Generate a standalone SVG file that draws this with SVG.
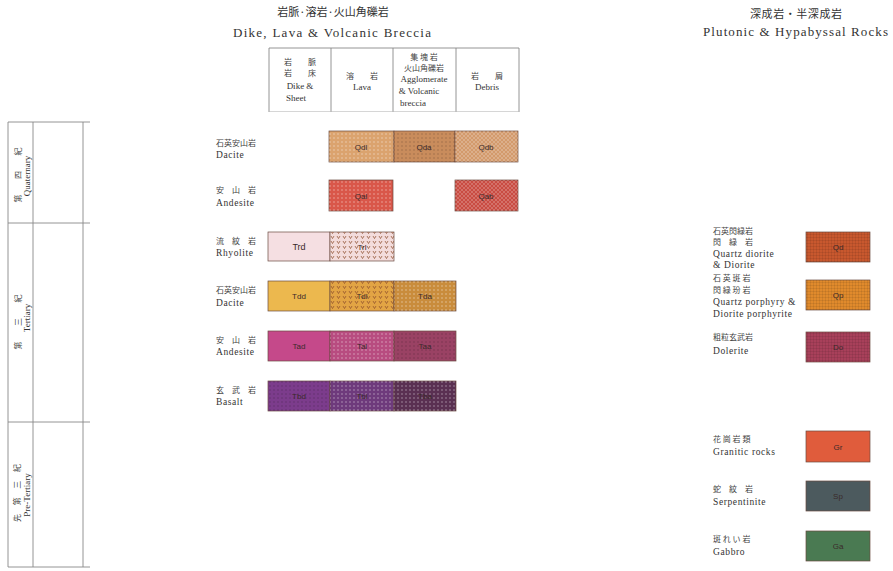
<svg xmlns="http://www.w3.org/2000/svg" width="893" height="571" viewBox="0 0 893 571">
<defs>
<pattern id="dots" width="4" height="4" patternUnits="userSpaceOnUse"><circle cx="2" cy="2" r="0.8" fill="#fff" fill-opacity="0.45"/></pattern>
<pattern id="dotsd" width="4" height="4" patternUnits="userSpaceOnUse"><circle cx="2" cy="2" r="0.8" fill="#000" fill-opacity="0.2"/></pattern>
<pattern id="vee" width="6" height="5" patternUnits="userSpaceOnUse"><path d="M1 1 L2.5 3.5 L4 1" fill="none" stroke="#8a4a2a" stroke-width="0.7"/></pattern>
<pattern id="grid" width="3" height="3" patternUnits="userSpaceOnUse"><path d="M0 0H3M0 0V3" stroke="#000" stroke-opacity="0.25" stroke-width="0.6"/></pattern>
<pattern id="cross" width="4" height="4" patternUnits="userSpaceOnUse"><path d="M0 0L4 4M4 0L0 4" stroke="#fff" stroke-opacity="0.35" stroke-width="0.6"/></pattern>
</defs>
<style>
text{font-family:"Liberation Serif","Noto Sans CJK JP",serif;fill:#333}
.jp{font-family:"Noto Sans CJK JP","Liberation Serif",sans-serif;font-size:8px;fill:#444}
.en{font-size:9.5px;letter-spacing:0.6px}
.ttl{font-size:13px}
.jpt{font-family:"Noto Sans CJK JP",sans-serif;font-size:11px}
.hd{font-size:9px;text-anchor:middle}
.hj{font-family:"Noto Sans CJK JP",sans-serif;font-size:8px;text-anchor:middle;fill:#444}
.code{font-family:"Liberation Sans",sans-serif;font-size:8px;text-anchor:middle;fill:#3a2a2a}
.ln{stroke:#888;stroke-width:0.9;fill:none}
.bx{stroke:#6a4a40;stroke-width:0.7}
.rot{font-size:9px;text-anchor:middle}
.rotj{font-family:"Noto Sans CJK JP",sans-serif;font-size:8px;fill:#444;text-anchor:middle}
</style>

<g id="headers">
<text class="jpt" x="333" y="16" text-anchor="middle">岩脈·溶岩·火山角礫岩</text>
<text class="ttl" x="233" y="37" textLength="198" lengthAdjust="spacing">Dike, Lava &amp; Volcanic Breccia</text>
<text class="jpt" x="796" y="18" text-anchor="middle" textLength="92" lengthAdjust="spacing">深成岩・半深成岩</text>
<text class="ttl" x="703" y="36" textLength="185" lengthAdjust="spacing">Plutonic &amp; Hypabyssal Rocks</text>
</g>

<g id="table-header">
<path class="ln" d="M269 48H519M269 48V112M331 48V112M393 48V112M456 48V112M519 48V112"/>
<path d="M269 111.5H519" stroke="#bbb" stroke-width="0.6"/>
<text class="hj" x="300" y="65">岩　　脈</text>
<text class="hj" x="300" y="76">岩　　床</text>
<text class="hd" x="300" y="89">Dike &amp;</text>
<text class="hd" x="296" y="101">Sheet</text>
<text class="hj" x="362" y="79">溶　　岩</text>
<text class="hd" x="362" y="90">Lava</text>
<text class="hj" x="424" y="60">集 塊 岩</text>
<text class="hj" x="424" y="71">火山角礫岩</text>
<text class="hd" x="424" y="82">Agglomerate</text>
<text class="hd" x="419" y="94">&amp; Volcanic</text>
<text class="hd" x="413" y="106">breccia</text>
<text class="hj" x="487" y="79">岩　　屑</text>
<text class="hd" x="487" y="90">Debris</text>
</g>

<g id="era-column">
<path class="ln" d="M8 122H90M8 223H90M8 422H90M8 567H90M8 122V567M33 122V567M83 122V567"/>
<text class="rotj" transform="translate(21,175) rotate(-90)" textLength="55" lengthAdjust="spacing">第四紀</text>
<text class="rot" transform="translate(30,176) rotate(-90)">Quaternary</text>
<text class="rotj" transform="translate(21,322) rotate(-90)" textLength="55" lengthAdjust="spacing">第三紀</text>
<text class="rot" transform="translate(30,318) rotate(-90)">Tertiary</text>
<text class="rotj" transform="translate(20,493) rotate(-90)" textLength="58" lengthAdjust="spacing">先第三紀</text>
<text class="rot" transform="translate(29.5,495) rotate(-90)">Pre-Tertiary</text>
</g>

<g id="q-dacite">
<text class="jp" x="216" y="146">石英安山岩</text>
<text class="en" x="216" y="158">Dacite</text>
<rect class="bx" x="329" y="131" width="65" height="31" fill="#dba36e"/>
<rect x="329" y="131" width="65" height="31" fill="url(#dots)"/>
<rect class="bx" x="394" y="131" width="61" height="31" fill="#c98c5c"/>
<rect x="394" y="131" width="61" height="31" fill="url(#dotsd)"/>
<rect class="bx" x="455" y="131" width="63" height="31" fill="#d39a6c"/>
<rect x="455" y="131" width="63" height="31" fill="url(#cross)"/>
<text class="code" x="361" y="150">Qdl</text>
<text class="code" x="424" y="150">Qda</text>
<text class="code" x="486" y="150">Qdb</text>
</g>

<g id="q-andesite">
<text class="jp" x="216" y="193">安　山　岩</text>
<text class="en" x="216" y="206">Andesite</text>
<rect class="bx" x="329" y="180" width="64" height="31" fill="#d9574a"/>
<rect x="329" y="180" width="64" height="31" fill="url(#dots)"/>
<rect class="bx" x="455" y="180" width="63" height="31" fill="#c94c42"/>
<rect x="455" y="180" width="63" height="31" fill="url(#cross)"/>
<text class="code" x="361" y="199">Qal</text>
<text class="code" x="486" y="199">Qab</text>
</g>

<g id="t-rhyolite">
<text class="jp" x="216" y="244">流　紋　岩</text>
<text class="en" x="216" y="256">Rhyolite</text>
<rect class="bx" x="268" y="232" width="62" height="29" fill="#f5dfe2"/>
<rect class="bx" x="330" y="232" width="64" height="29" fill="#f3dcdc"/>
<rect x="330" y="232" width="64" height="29" fill="url(#vee)"/>
<text class="code" x="299" y="250" style="font-size:9px">Trd</text>
<text class="code" x="362" y="250">Trl</text>
</g>

<g id="t-dacite">
<text class="jp" x="216" y="293">石英安山岩</text>
<text class="en" x="216" y="306">Dacite</text>
<rect class="bx" x="268" y="281" width="62" height="30" fill="#ecb84e"/>
<rect class="bx" x="330" y="281" width="64" height="30" fill="#e2a444"/>
<rect x="330" y="281" width="64" height="30" fill="url(#vee)"/>
<rect class="bx" x="394" y="281" width="62" height="30" fill="#c98c3c"/>
<rect x="394" y="281" width="62" height="30" fill="url(#dots)"/>
<text class="code" x="299" y="299">Tdd</text>
<text class="code" x="362" y="299">Tdl</text>
<text class="code" x="425" y="299">Tda</text>
</g>

<g id="t-andesite">
<text class="jp" x="216" y="343">安　山　岩</text>
<text class="en" x="216" y="355">Andesite</text>
<rect class="bx" x="268" y="331" width="62" height="30" fill="#c5498a"/>
<rect class="bx" x="330" y="331" width="64" height="30" fill="#b84c80"/>
<rect x="330" y="331" width="64" height="30" fill="url(#dots)"/>
<rect class="bx" x="394" y="331" width="62" height="30" fill="#9a4264"/>
<rect x="394" y="331" width="62" height="30" fill="url(#dotsd)"/>
<text class="code" x="299" y="349">Tad</text>
<text class="code" x="362" y="349">Tal</text>
<text class="code" x="425" y="349">Taa</text>
</g>

<g id="t-basalt">
<text class="jp" x="216" y="393">玄　武　岩</text>
<text class="en" x="216" y="405">Basalt</text>
<rect class="bx" x="268" y="381" width="62" height="30" fill="#7c3c8c"/>
<rect x="268" y="381" width="62" height="30" fill="url(#dotsd)"/>
<rect class="bx" x="330" y="381" width="64" height="30" fill="#6e3a7c"/>
<rect x="330" y="381" width="64" height="30" fill="url(#dots)"/>
<rect class="bx" x="394" y="381" width="62" height="30" fill="#5a3052"/>
<rect x="394" y="381" width="62" height="30" fill="url(#dots)"/>
<text class="code" x="299" y="399">Tbd</text>
<text class="code" x="362" y="399">Tbl</text>
<text class="code" x="425" y="399">Tba</text>
</g>

<g id="quartz-diorite">
<text class="jp" x="713" y="234">石英閃緑岩</text>
<text class="jp" x="713" y="245">閃　緑　岩</text>
<text class="en" x="713" y="257">Quartz diorite</text>
<text class="en" x="713" y="268">&amp; Diorite</text>
<rect class="bx" x="806" y="232" width="64" height="30" fill="#c8582e"/>
<rect x="806" y="232" width="64" height="30" fill="url(#grid)"/>
<text class="code" x="838" y="250">Qd</text>
</g>

<g id="quartz-porphyry">
<text class="jp" x="713" y="281">石 英 斑 岩</text>
<text class="jp" x="713" y="293">閃 緑 玢 岩</text>
<text class="en" x="713" y="305">Quartz porphyry &amp;</text>
<text class="en" x="713" y="317">Diorite porphyrite</text>
<rect class="bx" x="806" y="280" width="64" height="30" fill="#e08a2c"/>
<rect x="806" y="280" width="64" height="30" fill="url(#grid)"/>
<text class="code" x="838" y="298">Qp</text>
</g>

<g id="dolerite">
<text class="jp" x="713" y="340">粗粒玄武岩</text>
<text class="en" x="713" y="354">Dolerite</text>
<rect class="bx" x="806" y="332" width="64" height="30" fill="#a8405a"/>
<rect x="806" y="332" width="64" height="30" fill="url(#grid)"/>
<text class="code" x="838" y="350">Do</text>
</g>

<g id="granitic">
<text class="jp" x="713" y="442">花 崗 岩 類</text>
<text class="en" x="713" y="455">Granitic rocks</text>
<rect class="bx" x="806" y="431" width="64" height="31" fill="#e05c3c"/>
<text class="code" x="838" y="450">Gr</text>
</g>

<g id="serpentinite">
<text class="jp" x="713" y="492">蛇　紋　岩</text>
<text class="en" x="713" y="505">Serpentinite</text>
<rect class="bx" x="806" y="481" width="64" height="30" fill="#4c5a5e"/>
<text class="code" x="838" y="499">Sp</text>
</g>

<g id="gabbro">
<text class="jp" x="713" y="542">斑 れ い 岩</text>
<text class="en" x="713" y="555">Gabbro</text>
<rect class="bx" x="806" y="531" width="64" height="30" fill="#4a7a52"/>
<text class="code" x="838" y="549">Ga</text>
</g>
</svg>
